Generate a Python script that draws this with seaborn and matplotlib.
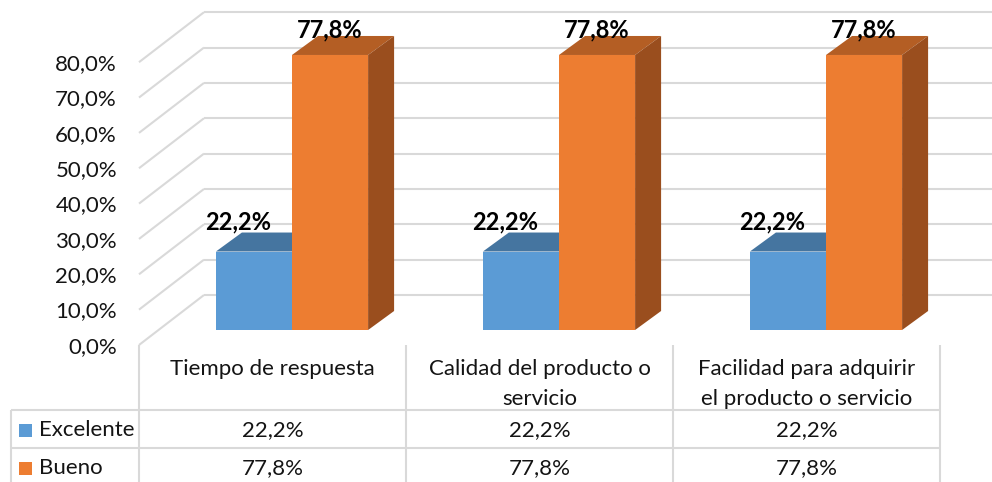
import matplotlib
matplotlib.use("Agg")
import matplotlib.pyplot as plt
from matplotlib.patches import Polygon, Rectangle
from matplotlib.colors import to_rgba
import pandas as pd
import seaborn as sns

# ---- data -------------------------------------------------------------
categorias = [
    "Tiempo de respuesta",
    "Calidad del producto o\nservicio",
    "Facilidad para adquirir\nel producto o servicio",
]
series = ["Excelente", "Bueno"]
excelente = [22.2, 22.2, 22.2]
bueno = [77.8, 77.8, 77.8]
ticks = [0, 10, 20, 30, 40, 50, 60, 70, 80]

# ---- styling -----------------------------------------------------------
front_colors = {"Excelente": "#5B9BD5", "Bueno": "#ED7D31"}
top_colors = {"Excelente": "#4575A0", "Bueno": "#B45E24"}
side_colors = {"Excelente": "#3D6690", "Bueno": "#9A4E1E"}
label_dx = {"Excelente": -0.06, "Bueno": 0.0}
label_dy = {"Excelente": 6.2, "Bueno": 5.1}
GRID = "#D9D9D9"
TXT = "#141414"
FS = 16
FS_LABEL = 17

df = pd.DataFrame({
    "categoria": categorias * 2,
    "serie": [series[0]] * len(excelente) + [series[1]] * len(bueno),
    "valor": excelente + bueno,
})

W, H = 992, 482
sns.set_theme(style="white")
plt.rcParams["font.family"] = ["Lato", "DejaVu Sans"]

fig = plt.figure(figsize=(W / 100, H / 100), dpi=100)
ax = fig.add_axes([0, 0, 1, 1])

# scale of the bar plane in pixels
PX_CAT = 267.0      # one category slot
PX_PCT = 3.535      # one percentage point
X0_PX, Y0_PX = 292.0, 330.0

# oblique depth of the floor and of each bar (in data units)
FDX, FDY = 65 / PX_CAT, 50 / PX_PCT
FRONT = 0.3
BDX, BDY = 26 / PX_CAT, 19 / PX_PCT


def dx(px):
    return (px - X0_PX) / PX_CAT


def dy(py):
    return (Y0_PX - py) / PX_PCT


sns.barplot(data=df, x="categoria", y="valor", hue="serie", order=categorias,
            hue_order=series, palette=front_colors, width=0.57, saturation=1,
            errorbar=None, legend=False, linewidth=0, edgecolor="none",
            zorder=3, ax=ax)

ax.set_xlim(dx(0), dx(W))
ax.set_ylim(dy(H), dy(0))
ax.axis("off")

# back wall and side wall gridlines
left = -0.5
for t in ticks:
    fx_, fy_ = left - FRONT * FDX, t - FRONT * FDY
    bx_, by_ = left + (1 - FRONT) * FDX, t + (1 - FRONT) * FDY
    ax.plot([fx_, bx_], [fy_, by_], color=GRID, lw=1.5, zorder=1,
            solid_capstyle="butt")
    ax.plot([bx_, dx(W) + 0.1], [by_, by_], color=GRID, lw=1.5, zorder=1,
            solid_capstyle="butt", clip_on=False)
    ax.text(dx(117), fy_ - 2.2, f"{t:.1f}%".replace(".", ","), ha="right",
            va="baseline", fontsize=FS, color=TXT)

# 3D faces and value labels for each bar
for p in list(ax.patches):
    serie = next(s for s in series
                 if all(abs(a - b) < 1e-3 for a, b in
                        zip(p.get_facecolor(), to_rgba(front_colors[s]))))
    x, w, h = p.get_x(), p.get_width(), p.get_height()
    top = [(x, h), (x + w, h), (x + w + BDX, h + BDY), (x + BDX, h + BDY)]
    side = [(x + w, 0), (x + w + BDX, BDY), (x + w + BDX, h + BDY), (x + w, h)]
    ax.add_patch(Polygon(top, closed=True, facecolor=top_colors[serie],
                         edgecolor="none", zorder=2))
    ax.add_patch(Polygon(side, closed=True, facecolor=side_colors[serie],
                         edgecolor="none", zorder=2))
    ax.text(x + w / 2 + label_dx[serie], h + label_dy[serie],
            f"{h:.1f}%".replace(".", ","), ha="center", va="baseline",
            fontsize=FS_LABEL, fontweight="bold", color="black", zorder=6)

# data table under the plot
n = len(categorias)
col_edges = [i - 0.5 - FRONT * FDX for i in range(n + 1)]
y_head_top = -FRONT * FDY
y_row1, y_row2, y_bot = dy(410), dy(448), dy(H + 2)
x_leg = dx(11)
line_kw = dict(color=GRID, lw=1.5, zorder=1, clip_on=False,
               solid_capstyle="butt")
for xe in col_edges:
    ax.plot([xe, xe], [y_head_top, y_bot], **line_kw)
ax.plot([x_leg, x_leg], [y_row1, y_bot], **line_kw)
for yr in (y_row1, y_row2):
    ax.plot([x_leg, col_edges[-1]], [yr, yr], **line_kw)

for i, cat in enumerate(categorias):
    cx = i - FRONT * FDX
    for k, line in enumerate(cat.split("\n")):
        ax.text(cx, dy(375 + 30 * k), line, ha="center", va="baseline",
                fontsize=FS, color=TXT)

row_vals = [excelente, bueno]
row_base = [436, 474]
sq_top = [424, 462]
for s, vals, base, sq in zip(series, row_vals, row_base, sq_top):
    ax.add_patch(Rectangle((dx(19), dy(sq + 13)), 13 / PX_CAT, 13 / PX_PCT,
                           facecolor=front_colors[s], edgecolor="none",
                           clip_on=False))
    ax.text(dx(39), dy(base), s, ha="left", va="baseline", fontsize=FS,
            color=TXT)
    for i, v in enumerate(vals):
        ax.text(i - FRONT * FDX, dy(base), f"{v:.1f}%".replace(".", ","),
                ha="center", va="baseline", fontsize=FS, color=TXT)

fig.savefig("out.png", dpi=100)
